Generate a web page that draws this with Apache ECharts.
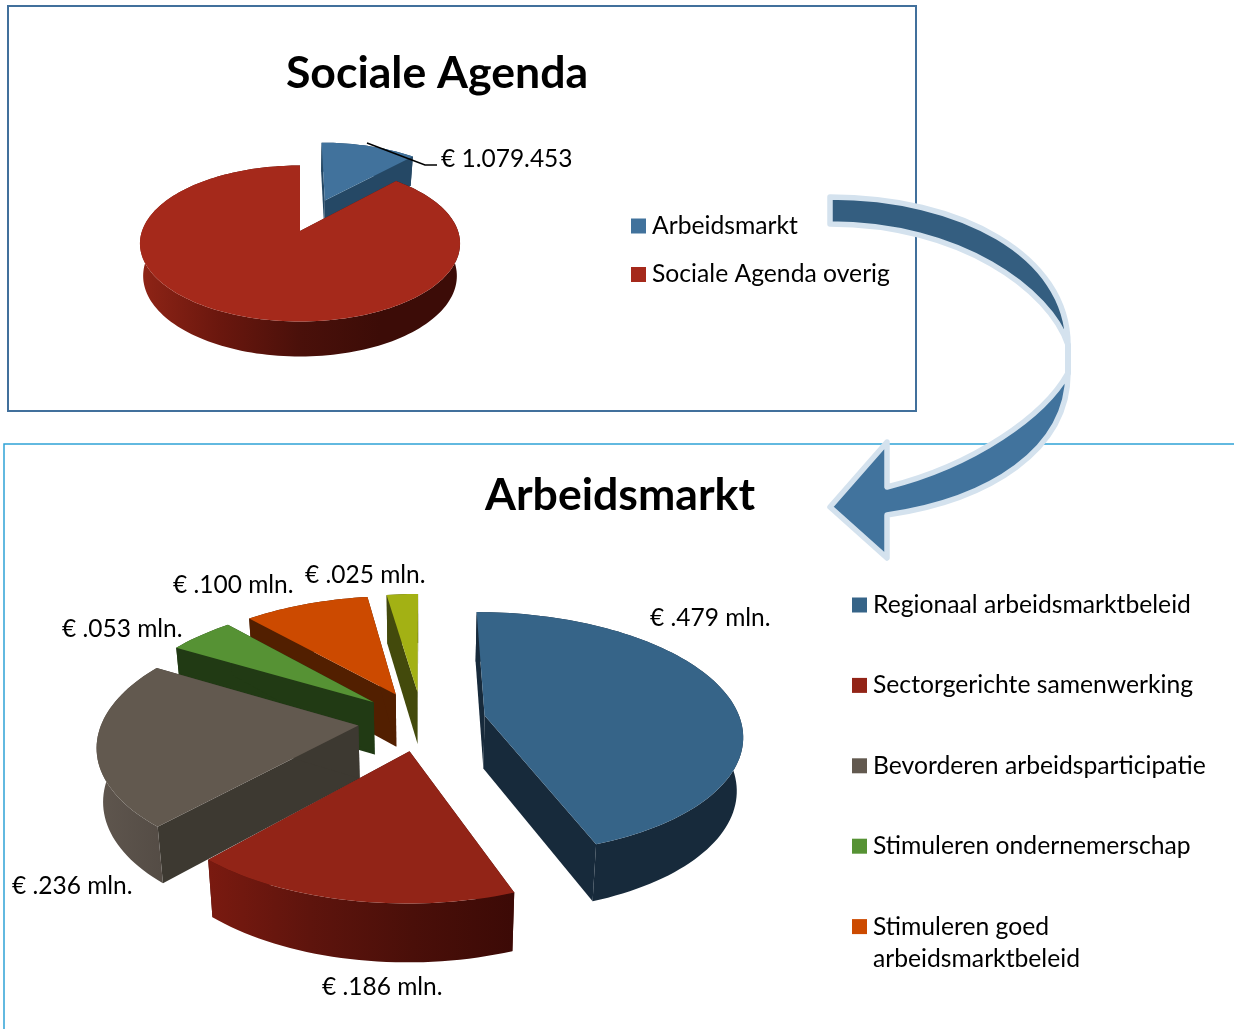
<!DOCTYPE html>
<html><head><meta charset="utf-8">
<style>html,body{margin:0;padding:0;background:#fff}#c{width:1234px;height:1029px}</style>
<script src="https://cdn.jsdelivr.net/npm/echarts@6/dist/echarts.min.js"></script>
</head><body><div id="c"></div>
<script>
// ---- data ----
const agendaNames = ['Arbeidsmarkt', 'Sociale Agenda overig'];
const agendaValues = [1079453, 8000000];
const marktNames = ['Regionaal arbeidsmarktbeleid', 'Sectorgerichte samenwerking', 'Bevorderen arbeidsparticipatie',
  'Stimuleren ondernemerschap', 'Stimuleren goed arbeidsmarktbeleid', 'Overig'];
const marktValues = [0.479, 0.186, 0.236, 0.053, 0.100, 0.025];
const marktLabels = ['€ .479 mln.', '€ .186 mln.', '€ .236 mln.', '€ .053 mln.', '€ .100 mln.', '€ .025 mln.'];
const agendaLabel = '€ 1.079.453';

// ---- styling / layout ----
const FONT = 'Lato';
const agendaView = {cx:300, cy:231, rx:158, ry:76, k:0.16, depth:32, shrink:0.98, explode:[0.46, 0]};
const marktView  = {cx:422, cy:720.8, rx:256, ry:120, k:0.146, depth:53, shrink:0.98, explode:[0.25,0.25,0.25,0.25,0.25,0.25]};
const agendaColors = [
  {top:'#41729c', edge:'#254865', rim:['#254865','#254865']},
  {top:'#a5291b', edge:'#5c150c', rim:['#8f2416','#6a170e','#4a100a','#3c0c07','#3c0c07']}
];
const marktColors = [
  {top:'#366488', edge:'#172a3b', rim:['#172a3b','#172a3b']},
  {top:'#922417', edge:'#4a100a', rim:['#7a1a10','#5e140d','#4a0f09','#3c0a06']},
  {top:'#62594f', edge:'#3d3931', rim:['#5f564e','#544c45']},
  {top:'#569234', edge:'#213a14', rim:['#213a14','#213a14']},
  {top:'#cc4a00', edge:'#521f00', rim:['#521f00','#521f00']},
  {top:'#a3b114', edge:'#434a0c', rim:['#434a0c','#434a0c']}
];
const marktDrawOrder = [5, 4, 3, 2, 1, 0];
const marktLabelPos = [[650,618],[322,987],[12,886],[62,629],[173,585],[305,575]];
const agendaLabelPos = [441,159];
const LABEL_SIZE = 24.5;
const TITLE_SIZE = 44.6;

// ---- pseudo-3D pie geometry driven by the values ----
function sliceAngles(values) {
  const total = values.reduce((a,b)=>a+b,0);
  let acc = 0;
  return values.map(v => { const s = acc/total*2*Math.PI; acc += v; return [s, acc/total*2*Math.PI]; });
}
function sliceRenderer(view, values, colors, idx, extra) {
  const ang = sliceAngles(values)[idx];
  return function () {
    const mid = (ang[0]+ang[1])/2, e = view.explode[idx];
    const ou = e*Math.sin(mid), ov = -e*Math.cos(mid);
    const proj = (u,v,low) => {
      const s = 1/(1-view.k*v);
      const x = view.rx*u*s, y = view.ry*v*s;
      return low ? [view.cx + x*view.shrink, view.cy + y + view.depth*(1+(s-1)*0.5)] : [view.cx + x, view.cy + y];
    };
    const rimPt = (t,low) => proj(ou+Math.sin(t), ov-Math.cos(t), low);
    const apexT = proj(ou,ov,false), apexB = proj(ou,ov,true);
    const n = Math.max(6, Math.round((ang[1]-ang[0])/0.03));
    const topArc = [], lowArc = [];
    for (let i=0;i<=n;i++){ const t = ang[0]+(ang[1]-ang[0])*i/n; topArc.push(rimPt(t,false)); lowArc.push(rimPt(t,true)); }
    const c = colors[idx];
    const poly = (points, fill) => ({type:'polygon', shape:{points}, style:{fill, stroke:null}});
    const stops = c.rim.map((col,i)=>({offset:i/(c.rim.length-1), color:col}));
    const rimFill = {type:'linear', x:0, y:0, x2:1, y2:0, colorStops:stops};
    const children = [
      poly([apexT, topArc[0], lowArc[0], apexB], c.edge),
      poly([apexT, topArc[n], lowArc[n], apexB], c.edge),
      poly(topArc.concat(lowArc.slice().reverse()), rimFill),
      poly([apexT].concat(topArc), c.top)
    ];
    if (extra) children.push.apply(children, extra);
    return {type:'group', children};
  };
}
const labelEl = (text,pos) => ({type:'text', style:{text, x:pos[0], y:pos[1], fill:'#000',
  font:LABEL_SIZE+'px '+FONT, textAlign:'left', textVerticalAlign:'middle'}});

const series = [];
// top pie: blue behind red
series.push({type:'custom', coordinateSystem:'none', name:agendaNames[0], z:2, silent:true, data:[agendaValues[0]],
  itemStyle:{color:agendaColors[0].top},
  renderItem:sliceRenderer(agendaView,agendaValues,agendaColors,0)});
series.push({type:'custom', coordinateSystem:'none', name:agendaNames[1], z:3, silent:true, data:[agendaValues[1]],
  itemStyle:{color:agendaColors[1].top},
  renderItem:sliceRenderer(agendaView,agendaValues,agendaColors,1,[
    {type:'polyline', shape:{points:[[367,143],[425,165],[437,165]]}, style:{stroke:'#000', lineWidth:1.6, fill:null}, z2:5},
    labelEl(agendaLabel, agendaLabelPos)
  ])});
marktDrawOrder.forEach((i,order)=>{
  series.push({type:'custom', coordinateSystem:'none', name:marktNames[i], z:4+order, silent:true, data:[marktValues[i]],
    itemStyle:{color:marktColors[i].top},
    renderItem:sliceRenderer(marktView,marktValues,marktColors,i,[labelEl(marktLabels[i], marktLabelPos[i])])});
});
// the curved arrow linking the two pies
series.push({type:'custom', coordinateSystem:'none', name:'pijl', z:30, silent:true, data:[1],
  renderItem:function(){ return {type:'group', children:[
    {type:'path', shape:{pathData:'M1068 345 L1068 373'}, style:{fill:null, stroke:'#d4e2ee', lineWidth:6, lineCap:'round'}},
    {type:'path', shape:{pathData:'M830 197 C960 197 1068 255 1068 345 C1050 290 960 224 830 224 Z'},
     style:{fill:'#345e80', stroke:'#d4e2ee', lineWidth:5.5, lineJoin:'round'}},
    {type:'path', shape:{pathData:'M1068 373 C1045 415 975 465 887 487 L887 442 L830 507 L887 558 L887 515 C990 500 1068 450 1068 373 Z'},
     style:{fill:'#41739d', stroke:'#d4e2ee', lineWidth:5.5, lineJoin:'round'}}
  ]}; }});

const chart = echarts.init(document.getElementById('c'), null, {renderer:'canvas'});
const LEG = {fontFamily:FONT, fontSize:LABEL_SIZE+0.2, color:'#000', lineHeight:30, padding:[0,0,0,1]};
chart.setOption({
  animation:false,
  backgroundColor:'#fff',
  title:[
    {text:'Sociale Agenda', left:437, top:73.5, textAlign:'center', textVerticalAlign:'middle',
     textStyle:{fontFamily:FONT, fontWeight:'bold', fontSize:TITLE_SIZE, color:'#000'}, padding:0},
    {text:'Arbeidsmarkt', left:620, top:495.5, textAlign:'center', textVerticalAlign:'middle',
     textStyle:{fontFamily:FONT, fontWeight:'bold', fontSize:TITLE_SIZE, color:'#000'}, padding:0}
  ],
  legend:[
    {data:agendaNames, orient:'vertical', left:631, top:211, padding:0, icon:'rect', itemWidth:15, itemHeight:15,
     itemGap:18.5, selectedMode:false, textStyle:LEG},
    {data:marktNames.slice(0,5), orient:'vertical', left:852, top:590, padding:0, icon:'rect', itemWidth:15, itemHeight:15,
     itemGap:50.4, selectedMode:false, textStyle:LEG,
     formatter:n => n === marktNames[4] ? 'Stimuleren goed' : n}
  ],
  graphic:{elements:[
    {type:'rect', z:0, shape:{x:8,y:6,width:908,height:405}, style:{fill:null, stroke:'#41709c', lineWidth:2}},
    {type:'polyline', z:0, shape:{points:[[1234,444],[4,444],[4,1029]]}, style:{fill:null, stroke:'#2fa3d6', lineWidth:1.5}},
    {type:'text', z:1, style:{text:'arbeidsmarktbeleid', x:873, y:959, fill:'#000', font:(LABEL_SIZE+0.2)+'px '+FONT, textAlign:'left', textVerticalAlign:'middle'}}
  ]},
  series
});
</script></body></html>
